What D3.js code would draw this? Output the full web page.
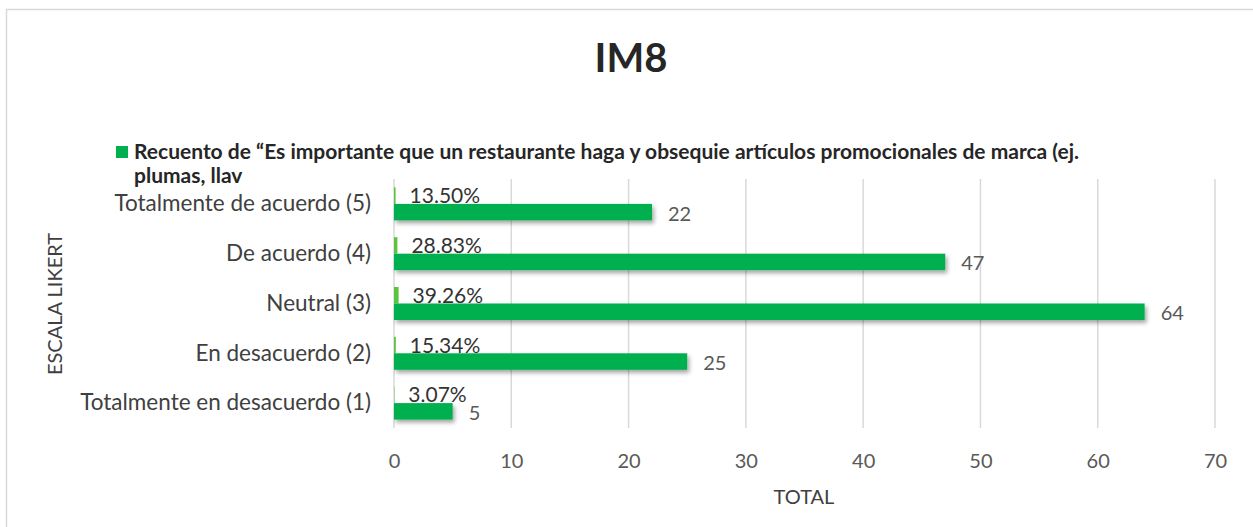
<!DOCTYPE html>
<html>
<head>
<meta charset="utf-8">
<script src="https://cdn.jsdelivr.net/npm/d3@7"></script>
<style>
  body { margin: 0; background: #fff; }
  svg { font-family: Lato, "Open Sans", sans-serif; }
  .axis path { display: none; }
  .axis line { display: none; }
</style>
</head>
<body>
<div id="chart"></div>
<script>
// chart values
var categories = ["Totalmente de acuerdo (5)", "De acuerdo (4)", "Neutral (3)", "En desacuerdo (2)", "Totalmente en desacuerdo (1)"];
var counts = [22, 47, 64, 25, 5];
var percents = [0.1350, 0.2883, 0.3926, 0.1534, 0.0307];
var series = ["pct", "count"];
var xTicks = [0, 10, 20, 30, 40, 50, 60, 70];

var chartTitle = "IM8";
var legendLines = ["Recuento de “Es importante que un restaurante haga y obsequie artículos promocionales de marca (ej.", "plumas, llav"];
var yTitle = "ESCALA LIKERT";
var xTitle = "TOTAL";

var width = 1253, height = 527;
var margin = {top: 179, right: 39, bottom: 99, left: 394};
var plotW = width - margin.left - margin.right,
    plotH = height - margin.top - margin.bottom;

var svg = d3.select("#chart").append("svg")
    .attr("width", width)
    .attr("height", height);

// bar shadow like the office chart
var defs = svg.append("defs");
var f = defs.append("filter").attr("id", "shadow")
    .attr("x", "-10%").attr("y", "-40%").attr("width", "130%").attr("height", "200%");
f.append("feDropShadow")
    .attr("dx", 2).attr("dy", 3).attr("stdDeviation", 2)
    .attr("flood-color", "#000").attr("flood-opacity", 0.35);

// outer chart border
svg.append("rect")
    .attr("x", 6.5).attr("y", 9.5)
    .attr("width", 1300).attr("height", 600)
    .attr("fill", "none")
    .attr("stroke", "#d9d9d9")
    .attr("stroke-width", 1.5);

// title
svg.append("text")
    .attr("x", 631).attr("y", 72)
    .attr("text-anchor", "middle")
    .attr("font-size", 40)
    .attr("font-weight", "bold")
    .attr("fill", "#262626")
    .text(chartTitle);

// legend
svg.append("rect")
    .attr("x", 116).attr("y", 146)
    .attr("width", 12).attr("height", 12)
    .attr("fill", "#00b050");

svg.selectAll(".legtext")
    .data(legendLines)
    .enter().append("text")
    .attr("class", "legtext")
    .attr("x", 134)
    .attr("y", function(d, i){ return 159 + i * 24; })
    .attr("font-size", 21)
    .attr("font-weight", "bold")
    .attr("fill", "#262626")
    .text(function(d){ return d; });

var g = svg.append("g")
    .attr("transform", "translate(" + margin.left + "," + margin.top + ")");

var x = d3.scaleLinear().domain([0, 70]).range([0, plotW + 1]);
var y = d3.scaleBand().domain(categories).range([0, plotH]).padding(0);
var ys = d3.scaleBand().domain(series).range([8.4, y.bandwidth() - 8.4]);

// vertical gridlines
g.selectAll(".grid")
    .data(xTicks)
    .enter().append("line")
    .attr("class", "grid")
    .attr("x1", function(d){ return x(d); })
    .attr("x2", function(d){ return x(d); })
    .attr("y1", 0)
    .attr("y2", plotH)
    .attr("stroke", "#d9d9d9")
    .attr("stroke-width", 1.5);

// x axis
var xa = g.append("g")
    .attr("class", "axis axis--x")
    .attr("transform", "translate(0," + plotH + ")")
    .call(d3.axisBottom(x).tickValues(xTicks).tickSize(0).tickPadding(26));
xa.selectAll("text")
    .attr("font-size", 20)
    .attr("font-family", "Lato, sans-serif")
    .attr("fill", "#595959");

// y axis
var ya = g.append("g")
    .attr("class", "axis axis--y")
    .call(d3.axisLeft(y).tickSize(0).tickPadding(23));
ya.selectAll("text")
    .attr("font-size", 22.5)
    .attr("font-family", "Lato, sans-serif")
    .attr("fill", "#404040");

// axis titles
svg.append("text")
    .attr("x", 804).attr("y", 504)
    .attr("text-anchor", "middle")
    .attr("font-size", 20)
    .attr("fill", "#404040")
    .text(xTitle);

svg.append("text")
    .attr("transform", "translate(62,304) rotate(-90)")
    .attr("text-anchor", "middle")
    .attr("font-size", 20)
    .attr("fill", "#404040")
    .text(yTitle);

var rows = categories.map(function(c, i){
    return {cat: c, count: counts[i], pct: percents[i]};
});

// percentage bars (tiny, on the same axis)
g.selectAll(".bar-pct")
    .data(rows)
    .enter().append("rect")
    .attr("class", "bar-pct")
    .attr("x", x(0))
    .attr("y", function(d){ return y(d.cat) + ys("pct"); })
    .attr("width", function(d){ return x(d.pct) - x(0); })
    .attr("height", ys.bandwidth())
    .attr("fill", "#5cc33c");

// count bars
g.selectAll(".bar")
    .data(rows)
    .enter().append("rect")
    .attr("class", "bar")
    .attr("x", x(0))
    .attr("y", function(d){ return y(d.cat) + ys("count"); })
    .attr("width", function(d){ return x(d.count) - x(0); })
    .attr("height", ys.bandwidth())
    .attr("fill", "#00b050")
    .attr("filter", "url(#shadow)");

// labels
g.selectAll(".lab-pct")
    .data(rows)
    .enter().append("text")
    .attr("class", "lab-pct")
    .attr("x", function(d){ return x(d.pct) + 14; })
    .attr("y", function(d){ return y(d.cat) + ys("pct") + ys.bandwidth() / 2; })
    .attr("dy", "0.36em")
    .attr("font-size", 21)
    .attr("fill", "#333333")
    .text(function(d){ return (d.pct * 100).toFixed(2) + "%"; });

g.selectAll(".lab-count")
    .data(rows)
    .enter().append("text")
    .attr("class", "lab-count")
    .attr("x", function(d){ return x(d.count) + 16; })
    .attr("y", function(d){ return y(d.cat) + ys("count") + ys.bandwidth() / 2; })
    .attr("dy", "0.42em")
    .attr("font-size", 20)
    .attr("fill", "#595959")
    .text(function(d){ return d.count; });
</script>
</body>
</html>
